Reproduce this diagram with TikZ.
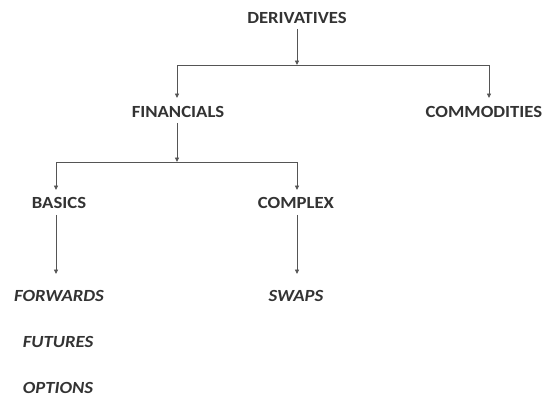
\documentclass[tikz,border=0pt]{standalone}
\usepackage{fontspec}
\setmainfont{Carlito}[FakeStretch=1.1]
\usetikzlibrary{arrows.meta}
\definecolor{txt}{HTML}{333333}
\definecolor{ln}{HTML}{555555}
\begin{document}
\begin{tikzpicture}[x=1pt,y=-1pt,
  lab/.style={text=txt,font=\fontsize{17}{19}\selectfont\bfseries,inner sep=0pt},
  ilab/.style={lab,font=\fontsize{17}{19}\selectfont\bfseries\itshape},
  conn/.style={draw=ln,line width=0.9pt,-{Triangle[length=4.5pt,width=4pt]}},
  bar/.style={draw=ln,line width=0.9pt}]
\useasboundingbox (0,0) rectangle (552,397);
\node[lab] (der) at (297,18) {DERIVATIVES};
\node[lab] (fin) at (178,112) {FINANCIALS};
\node[lab] (com) at (484,112) {COMMODITIES};
\node[lab] (bas) at (59,203) {BASICS};
\node[lab] (cpx) at (296,203) {COMPLEX};
\node[ilab] (fwd) at (59,296) {FORWARDS};
\node[ilab] (swp) at (296,296) {SWAPS};
\node[ilab] (fut) at (58,342) {FUTURES};
\node[ilab] (opt) at (58,388) {OPTIONS};
\coordinate (j1) at (297,65);
\coordinate (j1l) at (177,65);
\coordinate (j1r) at (489,65);
\coordinate (j2) at (177,162);
\coordinate (j2l) at (56,162);
\coordinate (j2r) at (297,162);
\draw[conn] (der.south -| j1) ++(0,5) -- (j1);
\draw[bar] (j1l) -- (j1r);
\draw[conn] (j1l) -- (j1l |- 0,98);
\draw[conn] (j1r) -- (j1r |- 0,98);
\draw[conn] (fin.south -| j2) ++(0,5) -- (j2);
\draw[bar] (j2l) -- (j2r);
\draw[conn] (j2l) -- (j2l |- 0,190);
\draw[conn] (j2r) -- (j2r |- 0,190);
\draw[conn] (bas.south -| j2l) ++(0,6) -- (j2l |- 0,274);
\draw[conn] (cpx.south -| j2r) ++(0,6) -- (j2r |- 0,274);
\end{tikzpicture}
\end{document}
